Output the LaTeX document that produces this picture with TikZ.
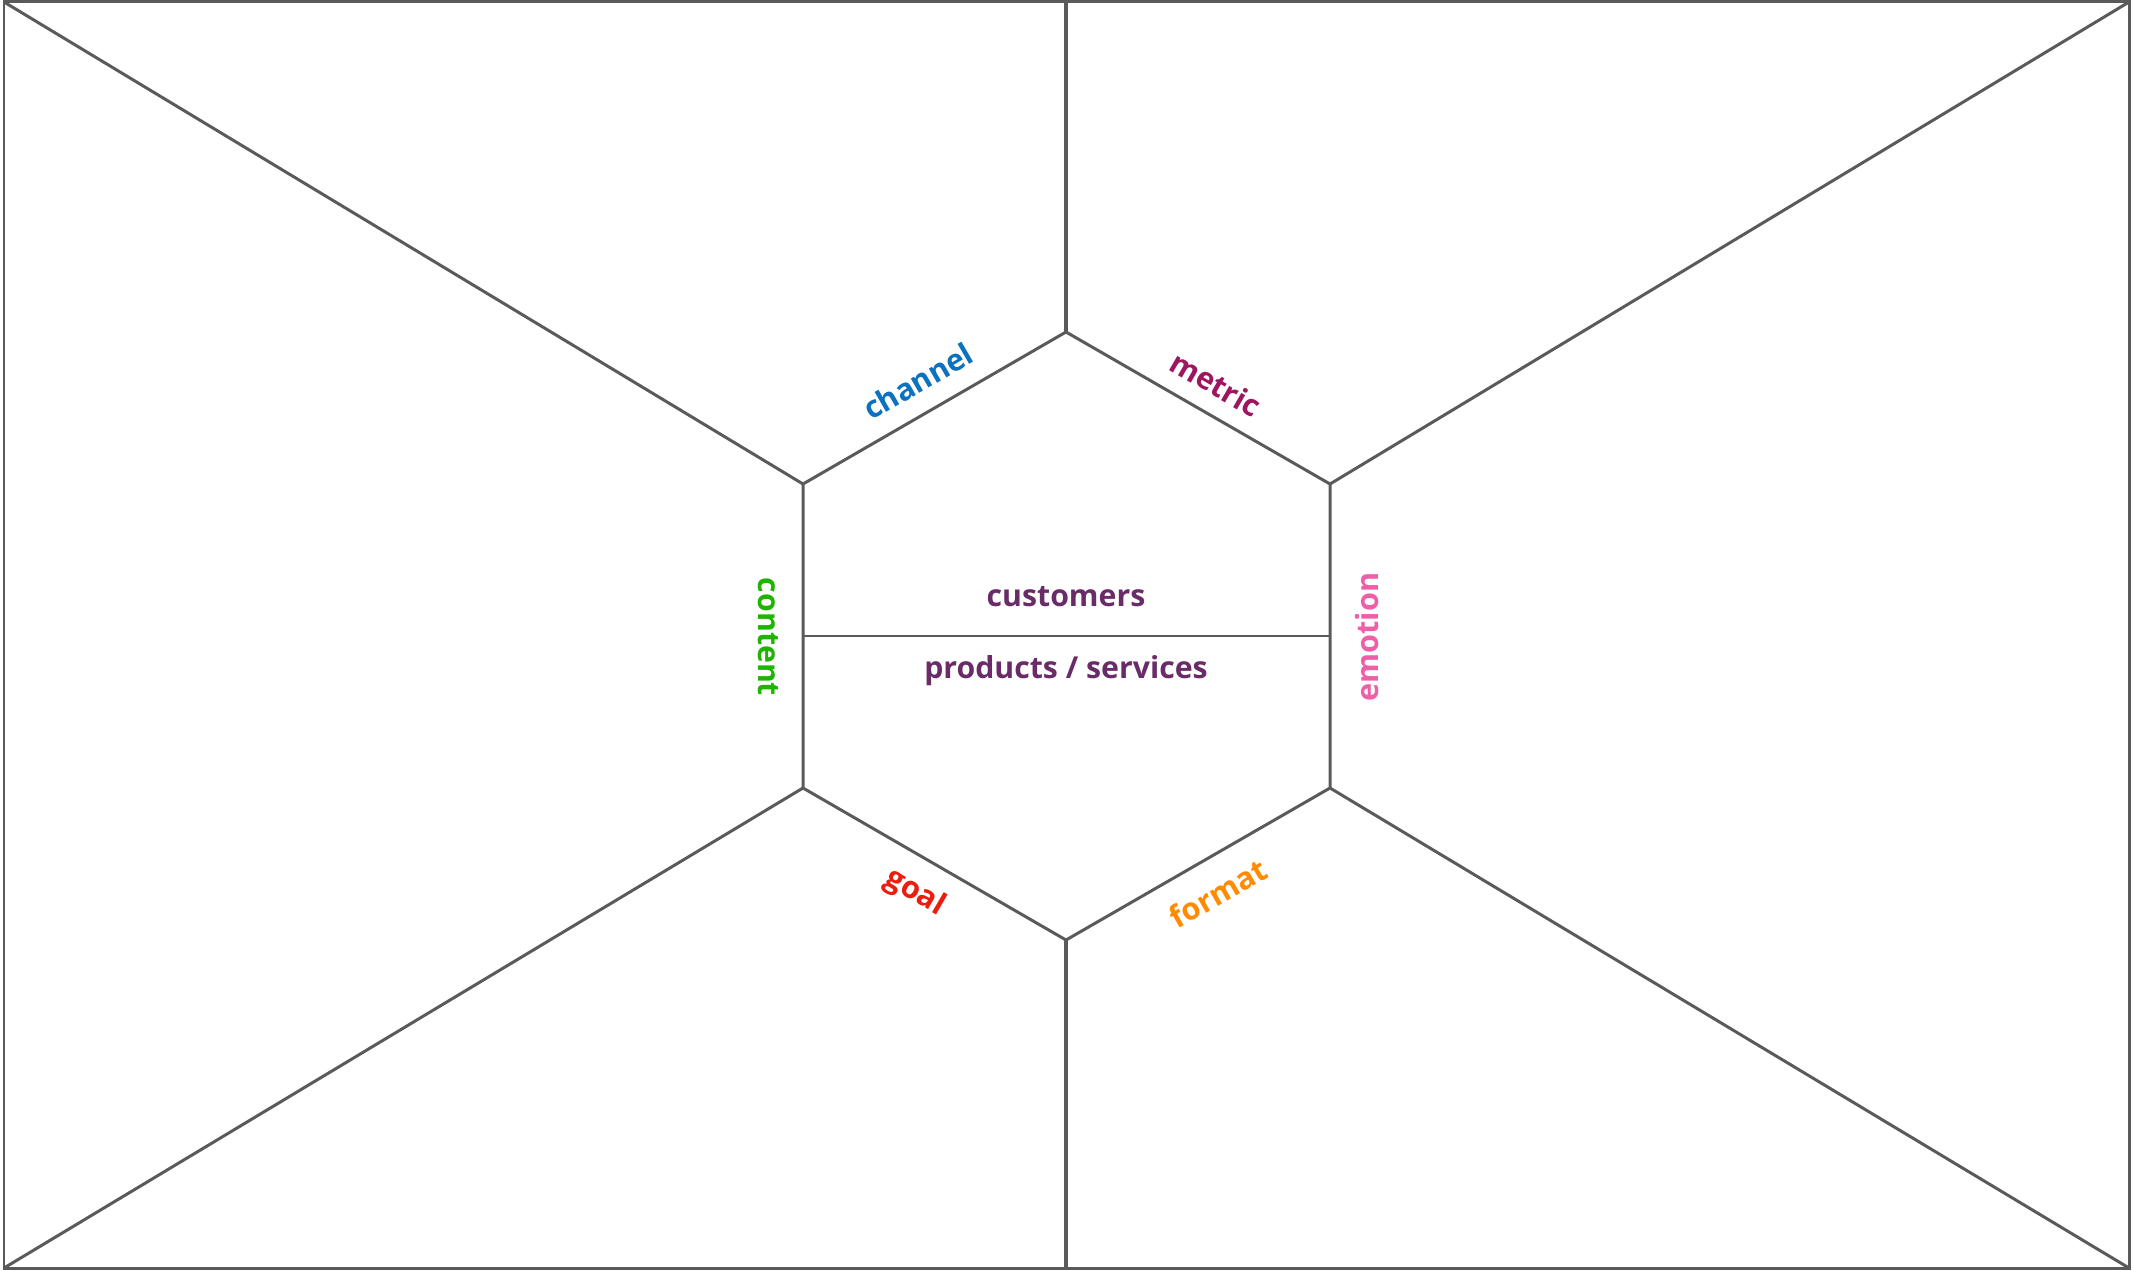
\documentclass[tikz,border=0pt]{standalone}
\usepackage{fontspec}
\setmainfont{Open Sans}
\IfFontExistsTF{Open Sans SemiBold}{\newfontfamily\semib{Open Sans SemiBold}}{\newcommand\semib{\bfseries}}
\IfFontExistsTF{Open Sans Medium}{\newfontfamily\medw{Open Sans Medium}}{\newcommand\medw{\semib}}
\definecolor{edgegray}{HTML}{5A5A5A}
\definecolor{cchannel}{HTML}{0A72BE}
\definecolor{cmetric}{HTML}{9E1560}
\definecolor{ccontent}{HTML}{1EB400}
\definecolor{cemotion}{HTML}{EE5FA7}
\definecolor{cgoal}{HTML}{EE1C0C}
\definecolor{cformat}{HTML}{FF8C00}
\definecolor{cmain}{HTML}{6A2C68}
\tikzset{
  edge/.style={draw=edgegray, line width=0.85pt},
  spine/.style={draw=edgegray, line width=1.15pt},
  lbl/.style={font=\semib\fontsize{8.6pt}{10pt}\selectfont, inner sep=0pt},
  lbllight/.style={font=\medw\fontsize{8.7pt}{10pt}\selectfont, inner sep=0pt},
  mainlbl/.style={font=\semib\fontsize{8.6pt}{10pt}\selectfont, text=cmain, inner sep=0pt},
}
\begin{document}
\begin{tikzpicture}[x=0.01cm, y=-0.01cm]
\useasboundingbox (0,0) rectangle (2134,1270);
% outer corners
\coordinate (tl) at (4,2);
\coordinate (tr) at (2129,2);
\coordinate (bl) at (4,1268);
\coordinate (br) at (2129,1268);
\coordinate (tm) at (1066,2);
\coordinate (bm) at (1066,1268);
% hexagon vertices
\coordinate (ht) at (1066,332);
\coordinate (hul) at (803,484);
\coordinate (hur) at (1330,484);
\coordinate (hll) at (803,788);
\coordinate (hlr) at (1330,788);
\coordinate (hb) at (1066,940);
\coordinate (ml) at (803,636);
\coordinate (mr) at (1330,636);
% outer frame
\draw[edge] (tl) -- (tr) -- (br) -- (bl) -- cycle;
% spines
\draw[spine] (tm) -- (ht);
\draw[spine] (hb) -- (bm);
% diagonals
\draw[edge] (tl) -- (hul);
\draw[edge] (tr) -- (hur);
\draw[edge] (bl) -- (hll);
\draw[edge] (br) -- (hlr);
% hexagon
\draw[edge] (ht) -- (hur) -- (hlr) -- (hb) -- (hll) -- (hul) -- cycle;
\draw[edge] (ml) -- (mr);
% labels
\node[lbl, text=cchannel, rotate=30] (channel) at (918,381) {channel};
\node[lbl, text=cmetric, rotate=-30] (metric) at (1216,384) {metric};
\node[lbl, text=ccontent, rotate=-90] (content) at (768,637) {content};
\node[lbllight, text=cemotion, rotate=90] (emotion) at (1367,637) {emotion};
\node[lbllight, text=cgoal, rotate=-30] (goal) at (915,893) {goal};
\node[lbllight, text=cformat, rotate=30] (format) at (1218,893) {format};
\node[mainlbl] (customers) at (1066,597) {customers};
\node[mainlbl] (products) at (1066,671) {products / services};
\end{tikzpicture}
\end{document}
